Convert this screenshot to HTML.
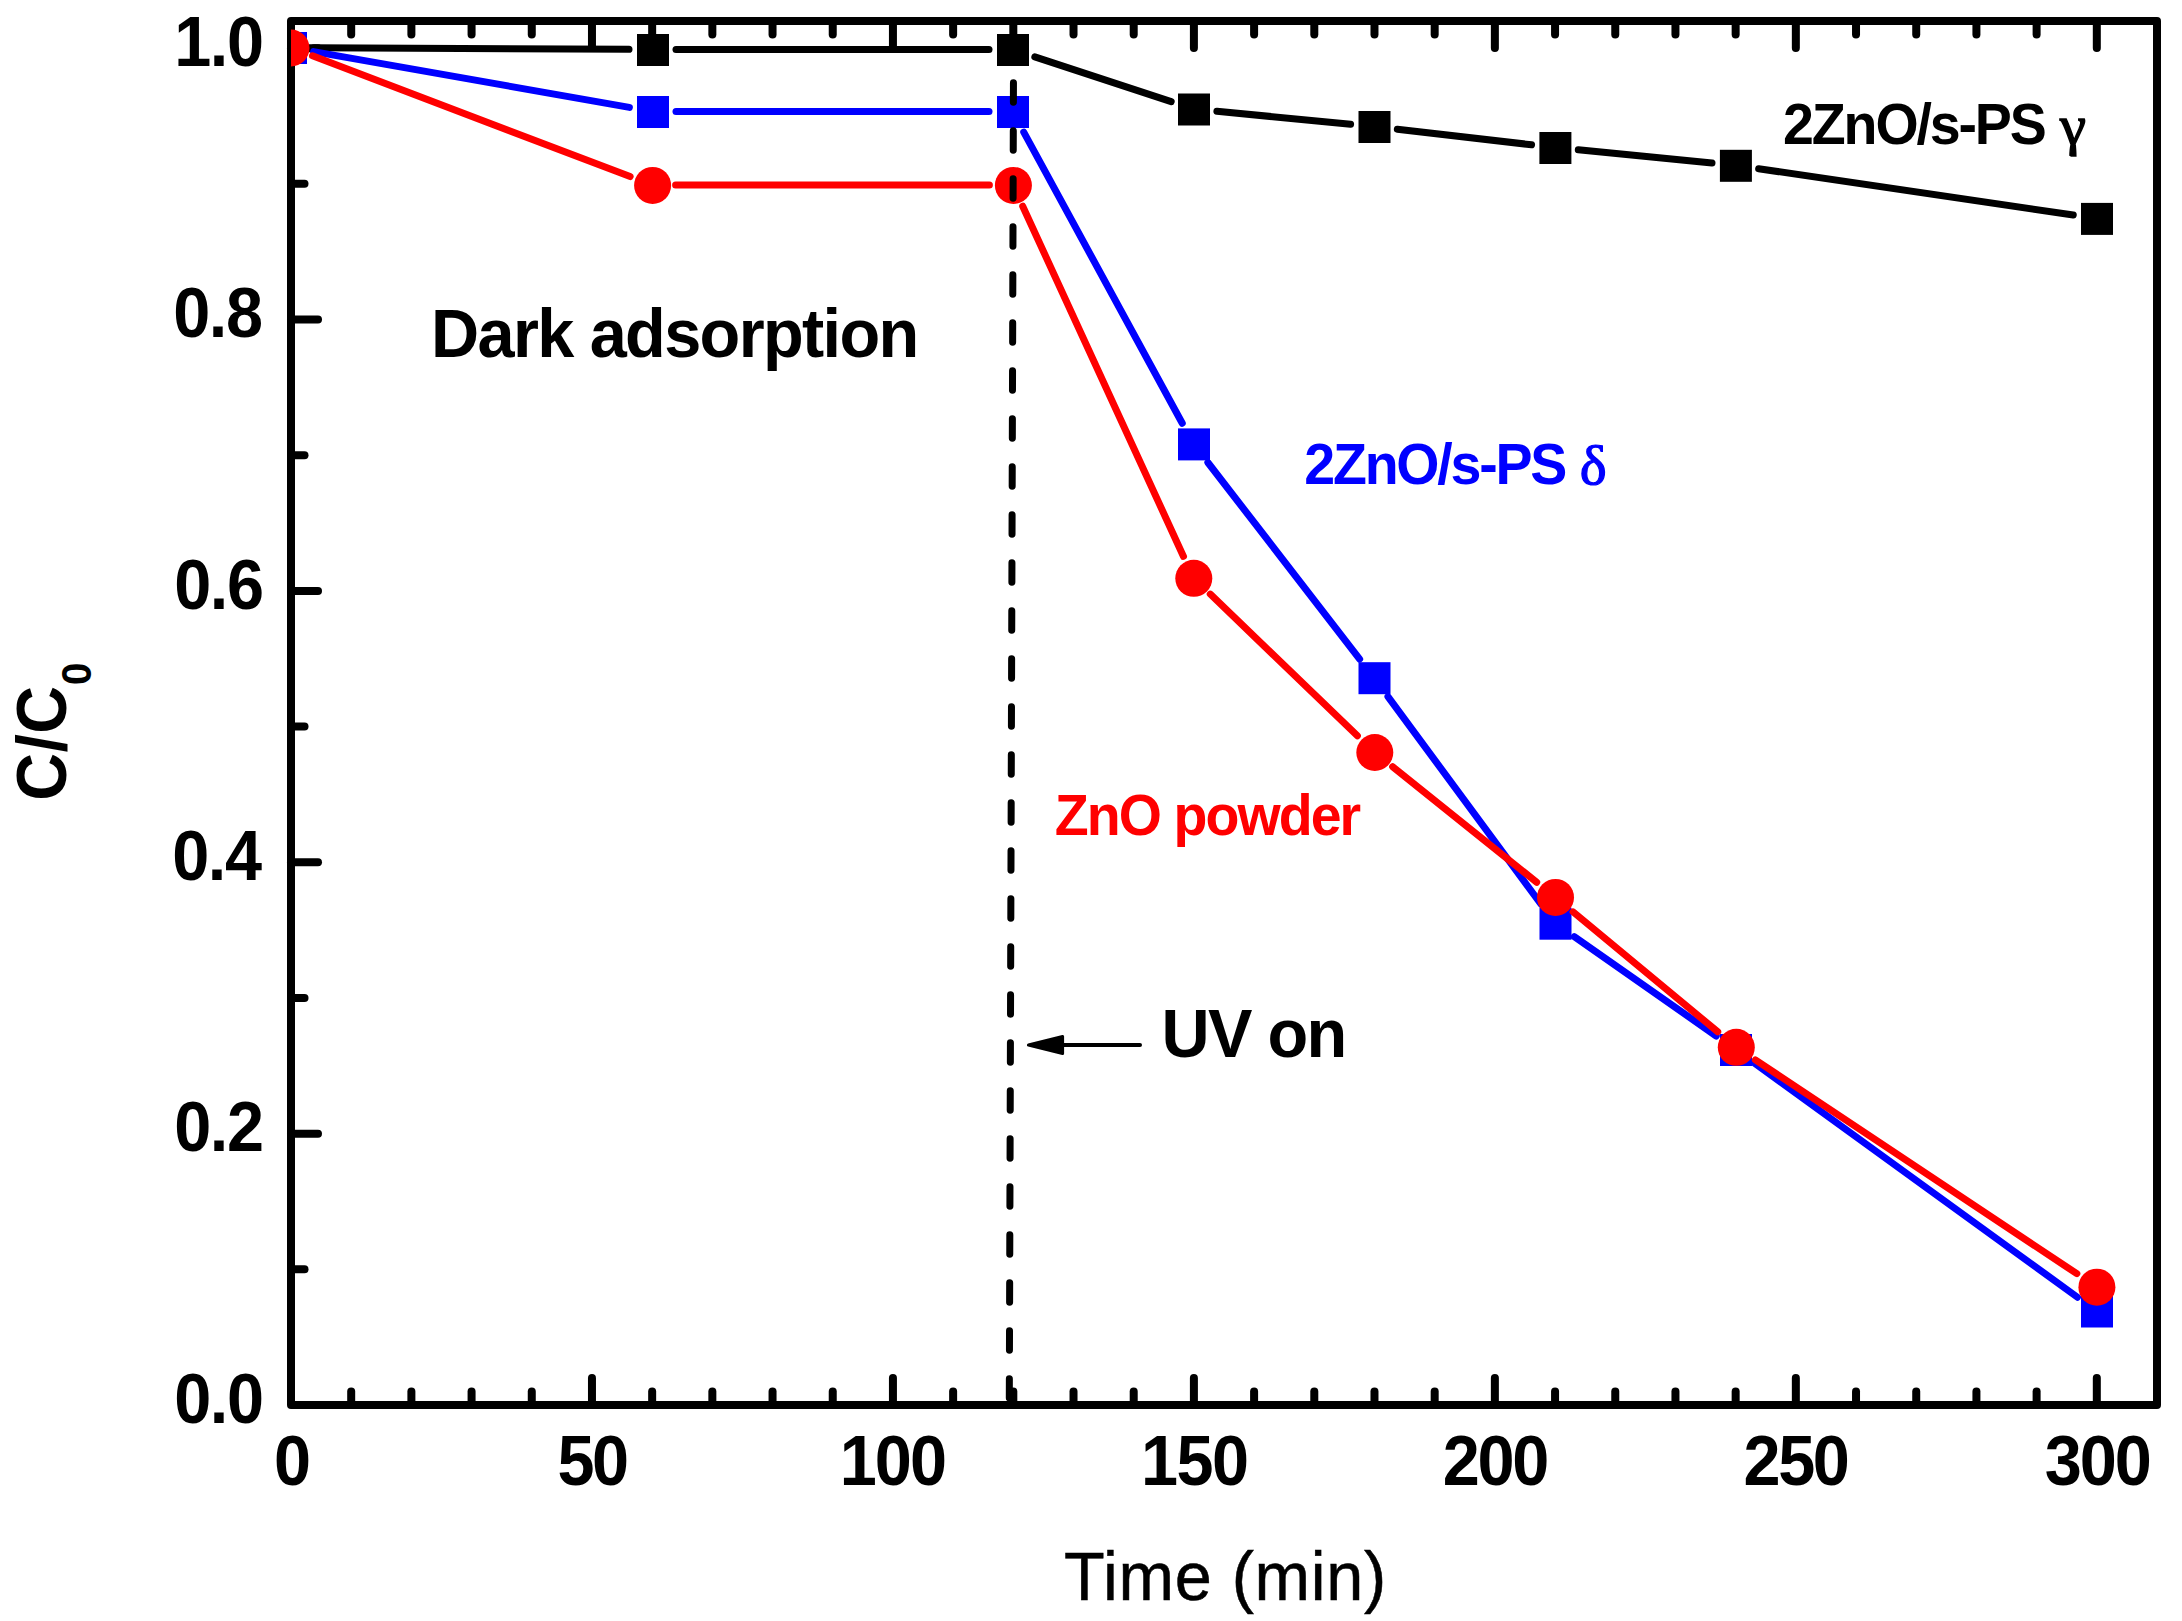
<!DOCTYPE html>
<html><head><meta charset="utf-8"><title>Photocatalytic degradation chart</title>
<style>html,body{margin:0;padding:0;background:#fff}svg{display:block}</style></head>
<body><svg width="2182" height="1621" viewBox="0 0 2182 1621">
<rect width="2182" height="1621" fill="#fff"/>
<g stroke="#000" stroke-width="8" stroke-linecap="round"><line x1="351.19" y1="1405.00" x2="351.19" y2="1391.50"/><line x1="351.19" y1="21.00" x2="351.19" y2="34.50"/><line x1="411.39" y1="1405.00" x2="411.39" y2="1391.50"/><line x1="411.39" y1="21.00" x2="411.39" y2="34.50"/><line x1="471.58" y1="1405.00" x2="471.58" y2="1391.50"/><line x1="471.58" y1="21.00" x2="471.58" y2="34.50"/><line x1="531.77" y1="1405.00" x2="531.77" y2="1391.50"/><line x1="531.77" y1="21.00" x2="531.77" y2="34.50"/><line x1="591.97" y1="1405.00" x2="591.97" y2="1378.00"/><line x1="591.97" y1="21.00" x2="591.97" y2="48.00"/><line x1="652.16" y1="1405.00" x2="652.16" y2="1391.50"/><line x1="652.16" y1="21.00" x2="652.16" y2="34.50"/><line x1="712.35" y1="1405.00" x2="712.35" y2="1391.50"/><line x1="712.35" y1="21.00" x2="712.35" y2="34.50"/><line x1="772.55" y1="1405.00" x2="772.55" y2="1391.50"/><line x1="772.55" y1="21.00" x2="772.55" y2="34.50"/><line x1="832.74" y1="1405.00" x2="832.74" y2="1391.50"/><line x1="832.74" y1="21.00" x2="832.74" y2="34.50"/><line x1="892.94" y1="1405.00" x2="892.94" y2="1378.00"/><line x1="892.94" y1="21.00" x2="892.94" y2="48.00"/><line x1="953.13" y1="1405.00" x2="953.13" y2="1391.50"/><line x1="953.13" y1="21.00" x2="953.13" y2="34.50"/><line x1="1013.32" y1="1405.00" x2="1013.32" y2="1391.50"/><line x1="1013.32" y1="21.00" x2="1013.32" y2="34.50"/><line x1="1073.52" y1="1405.00" x2="1073.52" y2="1391.50"/><line x1="1073.52" y1="21.00" x2="1073.52" y2="34.50"/><line x1="1133.71" y1="1405.00" x2="1133.71" y2="1391.50"/><line x1="1133.71" y1="21.00" x2="1133.71" y2="34.50"/><line x1="1193.90" y1="1405.00" x2="1193.90" y2="1378.00"/><line x1="1193.90" y1="21.00" x2="1193.90" y2="48.00"/><line x1="1254.10" y1="1405.00" x2="1254.10" y2="1391.50"/><line x1="1254.10" y1="21.00" x2="1254.10" y2="34.50"/><line x1="1314.29" y1="1405.00" x2="1314.29" y2="1391.50"/><line x1="1314.29" y1="21.00" x2="1314.29" y2="34.50"/><line x1="1374.48" y1="1405.00" x2="1374.48" y2="1391.50"/><line x1="1374.48" y1="21.00" x2="1374.48" y2="34.50"/><line x1="1434.68" y1="1405.00" x2="1434.68" y2="1391.50"/><line x1="1434.68" y1="21.00" x2="1434.68" y2="34.50"/><line x1="1494.87" y1="1405.00" x2="1494.87" y2="1378.00"/><line x1="1494.87" y1="21.00" x2="1494.87" y2="48.00"/><line x1="1555.06" y1="1405.00" x2="1555.06" y2="1391.50"/><line x1="1555.06" y1="21.00" x2="1555.06" y2="34.50"/><line x1="1615.26" y1="1405.00" x2="1615.26" y2="1391.50"/><line x1="1615.26" y1="21.00" x2="1615.26" y2="34.50"/><line x1="1675.45" y1="1405.00" x2="1675.45" y2="1391.50"/><line x1="1675.45" y1="21.00" x2="1675.45" y2="34.50"/><line x1="1735.65" y1="1405.00" x2="1735.65" y2="1391.50"/><line x1="1735.65" y1="21.00" x2="1735.65" y2="34.50"/><line x1="1795.84" y1="1405.00" x2="1795.84" y2="1378.00"/><line x1="1795.84" y1="21.00" x2="1795.84" y2="48.00"/><line x1="1856.03" y1="1405.00" x2="1856.03" y2="1391.50"/><line x1="1856.03" y1="21.00" x2="1856.03" y2="34.50"/><line x1="1916.23" y1="1405.00" x2="1916.23" y2="1391.50"/><line x1="1916.23" y1="21.00" x2="1916.23" y2="34.50"/><line x1="1976.42" y1="1405.00" x2="1976.42" y2="1391.50"/><line x1="1976.42" y1="21.00" x2="1976.42" y2="34.50"/><line x1="2036.61" y1="1405.00" x2="2036.61" y2="1391.50"/><line x1="2036.61" y1="21.00" x2="2036.61" y2="34.50"/><line x1="2096.81" y1="1405.00" x2="2096.81" y2="1378.00"/><line x1="2096.81" y1="21.00" x2="2096.81" y2="48.00"/><line x1="291.00" y1="1269.31" x2="304.50" y2="1269.31"/><line x1="291.00" y1="1133.63" x2="318.00" y2="1133.63"/><line x1="291.00" y1="997.94" x2="304.50" y2="997.94"/><line x1="291.00" y1="862.25" x2="318.00" y2="862.25"/><line x1="291.00" y1="726.57" x2="304.50" y2="726.57"/><line x1="291.00" y1="590.88" x2="318.00" y2="590.88"/><line x1="291.00" y1="455.20" x2="304.50" y2="455.20"/><line x1="291.00" y1="319.51" x2="318.00" y2="319.51"/><line x1="291.00" y1="183.82" x2="304.50" y2="183.82"/><line x1="291.00" y1="48.14" x2="318.00" y2="48.14"/></g>
<rect x="291.0" y="21.0" width="1866.0" height="1384.0" fill="none" stroke="#000" stroke-width="8" stroke-linejoin="round"/>
<clipPath id="c"><rect x="291.0" y="21.0" width="1866.0" height="1384.0"/></clipPath>
<g clip-path="url(#c)"><g transform="translate(-0.5,-0.5)" stroke="#000" stroke-width="7" stroke-linecap="round" fill="none"><line x1="314.50" y1="48.13" x2="629.50" y2="49.87"/><line x1="676.50" y1="50.00" x2="989.50" y2="50.00"/><line x1="1035.32" y1="57.34" x2="1171.68" y2="102.16"/><line x1="1217.39" y1="111.77" x2="1351.11" y2="124.73"/><line x1="1397.84" y1="129.71" x2="1532.06" y2="145.29"/><line x1="1578.79" y1="150.31" x2="1712.51" y2="163.49"/><line x1="1759.15" y1="169.22" x2="2073.75" y2="215.48"/></g><g fill="#000"><rect x="275.00" y="32.00" width="32" height="32"/><rect x="637.00" y="34.00" width="32" height="32"/><rect x="997.00" y="34.00" width="32" height="32"/><rect x="1178.00" y="93.50" width="32" height="32"/><rect x="1358.50" y="111.00" width="32" height="32"/><rect x="1539.40" y="132.00" width="32" height="32"/><rect x="1719.90" y="149.80" width="32" height="32"/><rect x="2081.00" y="202.90" width="32" height="32"/></g><g transform="translate(-0.5,-0.5)" stroke="#0000ff" stroke-width="7" stroke-linecap="round" fill="none"><line x1="314.14" y1="52.09" x2="629.86" y2="107.91"/><line x1="676.50" y1="112.00" x2="989.50" y2="112.00"/><line x1="1024.24" y1="132.64" x2="1182.76" y2="423.76"/><line x1="1208.36" y1="463.00" x2="1360.14" y2="659.60"/><line x1="1388.45" y1="697.11" x2="1541.55" y2="904.79"/><line x1="1574.75" y1="937.17" x2="1716.75" y2="1036.53"/><line x1="1755.03" y1="1063.79" x2="2077.97" y2="1297.71"/></g><g fill="#0000ff"><rect x="275.00" y="32.00" width="32" height="32"/><rect x="637.00" y="96.00" width="32" height="32"/><rect x="997.00" y="96.00" width="32" height="32"/><rect x="1178.00" y="428.40" width="32" height="32"/><rect x="1358.50" y="662.20" width="32" height="32"/><rect x="1539.50" y="907.70" width="32" height="32"/><rect x="1720.00" y="1034.00" width="32" height="32"/><rect x="2081.00" y="1295.50" width="32" height="32"/></g><g transform="translate(-0.5,-0.5)" stroke="#ff0000" stroke-width="7" stroke-linecap="round" fill="none"><line x1="312.97" y1="56.35" x2="630.63" y2="177.05"/><line x1="676.10" y1="185.40" x2="989.90" y2="185.40"/><line x1="1023.21" y1="206.76" x2="1183.99" y2="556.94"/><line x1="1210.73" y1="594.60" x2="1357.87" y2="736.20"/><line x1="1393.13" y1="767.20" x2="1537.17" y2="882.70"/><line x1="1573.59" y1="912.40" x2="1718.21" y2="1032.30"/><line x1="1755.87" y1="1060.32" x2="2077.33" y2="1274.18"/></g><g fill="#ff0000"><circle cx="291.00" cy="48.00" r="18.5"/><circle cx="652.60" cy="185.40" r="18.5"/><circle cx="1013.40" cy="185.40" r="18.5"/><circle cx="1193.80" cy="578.30" r="18.5"/><circle cx="1374.80" cy="752.50" r="18.5"/><circle cx="1555.50" cy="897.40" r="18.5"/><circle cx="1736.30" cy="1047.30" r="18.5"/><circle cx="2096.90" cy="1287.20" r="18.5"/></g></g>
<line x1="1013.6" y1="34.7" x2="1009.3" y2="1398" stroke="#000" stroke-width="7" stroke-linecap="round" stroke-dasharray="19.5 28.5"/>
<line x1="1060" y1="1045" x2="1140" y2="1045" stroke="#000" stroke-width="4" stroke-linecap="round"/>
<polygon points="1028.4,1045 1062.6,1036.5 1062.6,1053.5" fill="#000" stroke="#000" stroke-width="3" stroke-linejoin="round"/>
<g><text transform="translate(174.20,1422.80) scale(0.959,1)" font-size="69.5" font-weight="bold" font-family="Liberation Sans, Arial, Helvetica, sans-serif" letter-spacing="-1.50" fill="#000">0.0</text>
<text transform="translate(174.20,1151.43) scale(0.959,1)" font-size="69.5" font-weight="bold" font-family="Liberation Sans, Arial, Helvetica, sans-serif" letter-spacing="-1.50" fill="#000">0.2</text>
<text transform="translate(172.20,880.05) scale(0.959,1)" font-size="69.5" font-weight="bold" font-family="Liberation Sans, Arial, Helvetica, sans-serif" letter-spacing="-1.50" fill="#000">0.4</text>
<text transform="translate(174.20,608.68) scale(0.959,1)" font-size="69.5" font-weight="bold" font-family="Liberation Sans, Arial, Helvetica, sans-serif" letter-spacing="-1.50" fill="#000">0.6</text>
<text transform="translate(173.20,337.31) scale(0.959,1)" font-size="69.5" font-weight="bold" font-family="Liberation Sans, Arial, Helvetica, sans-serif" letter-spacing="-1.50" fill="#000">0.8</text>
<text transform="translate(174.20,65.94) scale(0.959,1)" font-size="69.5" font-weight="bold" font-family="Liberation Sans, Arial, Helvetica, sans-serif" letter-spacing="-1.50" fill="#000">1.0</text>
<text transform="translate(273.90,1484.90) scale(0.959,1)" font-size="69.5" font-weight="bold" font-family="Liberation Sans, Arial, Helvetica, sans-serif" letter-spacing="0.00" fill="#000">0</text>
<text transform="translate(557.50,1484.90) scale(0.959,1)" font-size="69.5" font-weight="bold" font-family="Liberation Sans, Arial, Helvetica, sans-serif" letter-spacing="-2.71" fill="#000">50</text>
<text transform="translate(839.65,1484.90) scale(0.959,1)" font-size="69.5" font-weight="bold" font-family="Liberation Sans, Arial, Helvetica, sans-serif" letter-spacing="-2.03" fill="#000">100</text>
<text transform="translate(1141.10,1484.90) scale(0.959,1)" font-size="69.5" font-weight="bold" font-family="Liberation Sans, Arial, Helvetica, sans-serif" letter-spacing="-1.67" fill="#000">150</text>
<text transform="translate(1442.75,1484.90) scale(0.959,1)" font-size="69.5" font-weight="bold" font-family="Liberation Sans, Arial, Helvetica, sans-serif" letter-spacing="-2.45" fill="#000">200</text>
<text transform="translate(1743.45,1484.90) scale(0.959,1)" font-size="69.5" font-weight="bold" font-family="Liberation Sans, Arial, Helvetica, sans-serif" letter-spacing="-2.45" fill="#000">250</text>
<text transform="translate(2044.85,1484.90) scale(0.959,1)" font-size="69.5" font-weight="bold" font-family="Liberation Sans, Arial, Helvetica, sans-serif" letter-spacing="-2.14" fill="#000">300</text>
<text transform="translate(431.10,357.20) scale(0.98,1)" font-size="68" font-weight="bold" font-family="Liberation Sans, Arial, Helvetica, sans-serif" letter-spacing="-1.66" fill="#000">Dark adsorption</text>
<text transform="translate(1783.05,143.90) scale(0.968,1)" font-size="57.4" font-weight="bold" font-family="Liberation Sans, Arial, Helvetica, sans-serif" letter-spacing="-2.21" fill="#000">2ZnO/s-PS</text>
<text transform="translate(2059.95,144.00) scale(1.06,1)" font-size="55.5" font-weight="normal" font-family="Liberation Serif, Times New Roman, serif" letter-spacing="0.00" fill="#000" stroke="#000" stroke-width="1.4">γ</text>
<text transform="translate(1304.25,484.00) scale(0.968,1)" font-size="57.4" font-weight="bold" font-family="Liberation Sans, Arial, Helvetica, sans-serif" letter-spacing="-2.29" fill="#0000ff">2ZnO/s-PS</text>
<text transform="translate(1579.75,484.20) scale(1.03,1)" font-size="55.5" font-weight="normal" font-family="Liberation Serif, Times New Roman, serif" letter-spacing="0.00" fill="#0000ff" stroke="#0000ff" stroke-width="1.2">δ</text>
<text transform="translate(1054.70,834.80) scale(0.983,1)" font-size="56.5" font-weight="bold" font-family="Liberation Sans, Arial, Helvetica, sans-serif" letter-spacing="-1.97" fill="#ff0000">ZnO powder</text>
<text transform="translate(1161.55,1056.60) scale(0.973,1)" font-size="68.5" font-weight="bold" font-family="Liberation Sans, Arial, Helvetica, sans-serif" letter-spacing="-1.77" fill="#000">UV on</text>
<text transform="translate(1064.05,1600.10) scale(0.973,1)" font-size="68.5" font-weight="normal" font-family="Liberation Sans, Arial, Helvetica, sans-serif" letter-spacing="0.72" fill="#000" stroke="#000" stroke-width="0.5">Time (min)</text>
<text transform="translate(66.2,800.8) rotate(-90) scale(0.955,1)" font-size="69.5" font-weight="bold" font-family="Liberation Sans, Arial, Helvetica, sans-serif" letter-spacing="0.4">C/C<tspan font-size="42" dy="25" dx="0.3">0</tspan></text></g>
</svg></body></html>
